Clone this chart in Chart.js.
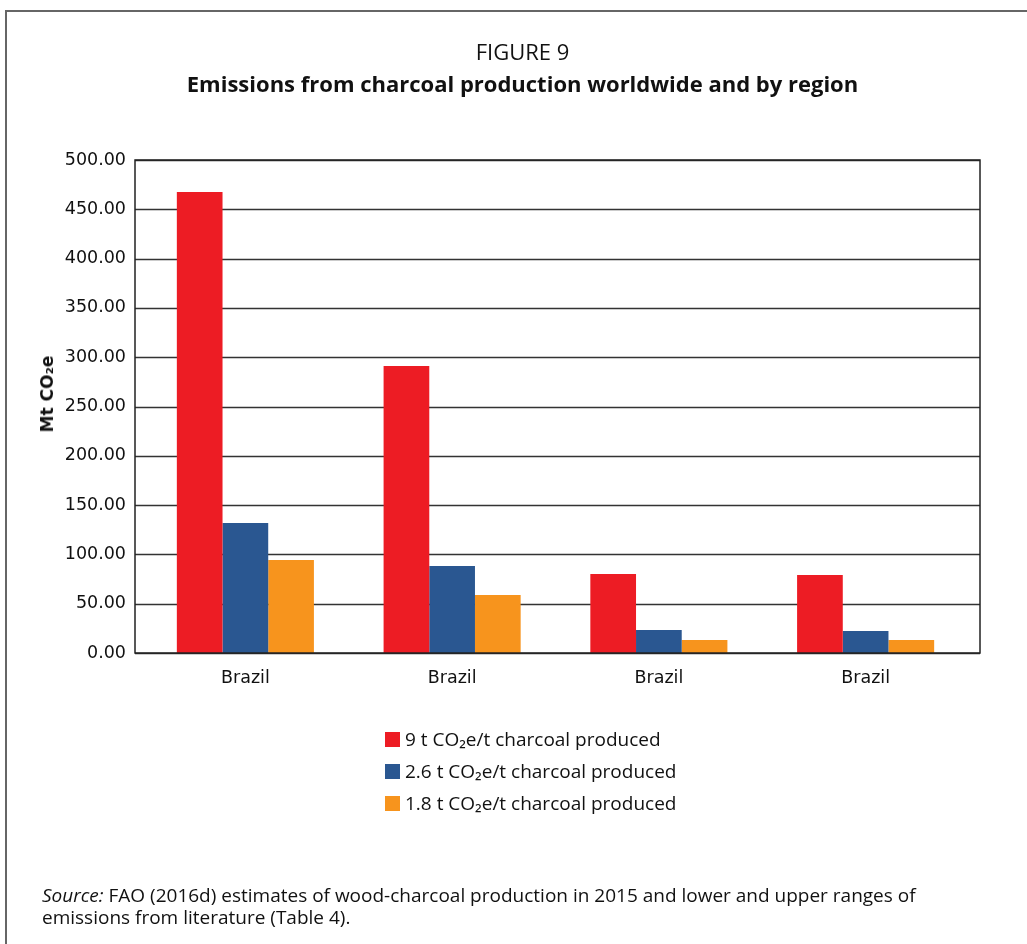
<!DOCTYPE html>
<html>
<head>
<meta charset="utf-8">
<script src="https://cdn.jsdelivr.net/npm/chart.js@4.4.0/dist/chart.umd.min.js"></script>
<style>
  html, body { margin: 0; padding: 0; background: #fff; }
  body { width: 1027px; height: 944px; position: relative; overflow: hidden; font-family: "Open Sans", sans-serif; color: #111; }
  #frame { position: absolute; left: 5px; top: 10px; width: 1100px; height: 1000px; border-left: 2px solid #666; border-top: 2px solid #666; }
  #fig { position: absolute; top: 36px; left: 0; width: 1045px; text-align: center; font-size: 22px; line-height: 30px; }
  #title { position: absolute; top: 68px; left: 0; width: 1045px; text-align: center; font-size: 22px; line-height: 30px; font-weight: bold; }
  #chartWrap { position: absolute; left: 0; top: 0; width: 1027px; height: 944px; }
  #ytitle { position: absolute; left: 47px; top: 394px; transform: translate(-50%, -50%) rotate(-90deg); font-family: "DejaVu Sans", sans-serif; font-weight: bold; font-size: 17px; white-space: nowrap; color: #111; }
  #legend { position: absolute; left: 385px; top: 723px; font-size: 19px; }
  .li { height: 32px; display: flex; align-items: center; }
  .sw { width: 15px; height: 15px; margin-right: 5px; }
  #source { position: absolute; left: 42px; top: 884px; font-size: 19px; line-height: 22px; }
</style>
</head>
<body>
<div id="frame"></div>
<div id="chartWrap"><canvas id="c" width="1027" height="944"></canvas></div>
<div id="fig">FIGURE 9</div>
<div id="title">Emissions from charcoal production worldwide and by region</div>
<div id="ytitle">Mt CO₂e</div>
<div id="legend"></div>
<div id="source"><i>Source:</i> FAO (2016d) estimates of wood-charcoal production in 2015 and lower and upper ranges of<br>emissions from literature (Table 4).</div>
<script>
const categories = ["Brazil", "Brazil", "Brazil", "Brazil"];
const seriesNames = ["9 t CO₂e/t charcoal produced", "2.6 t CO₂e/t charcoal produced", "1.8 t CO₂e/t charcoal produced"];
const high = [467.5, 291.0, 80.1, 79.1];
const mid = [131.8, 88.2, 23.3, 22.3];
const low = [94.3, 58.8, 13.2, 13.2];
const colors = ["#ED1C24", "#2A5791", "#F7941D"];
const yTicks = [0, 50, 100, 150, 200, 250, 300, 350, 400, 450, 500];

// plot frame extends slightly beyond the category range (as in the source chart)
const frameExtra = { left: 7, right: 11 };

const gridAndFrame = {
  id: 'gridAndFrame',
  beforeDatasetsDraw(chart) {
    const a = chart.chartArea, ctx = chart.ctx, y = chart.scales.y;
    const l = a.left - frameExtra.left, r = a.right + frameExtra.right;
    ctx.save();
    ctx.strokeStyle = '#333';
    ctx.lineWidth = 1.3;
    yTicks.forEach(v => {
      const py = Math.round(y.getPixelForValue(v)) + 0.5;
      ctx.beginPath(); ctx.moveTo(l, py); ctx.lineTo(r, py); ctx.stroke();
    });
    ctx.restore();
  },
  afterDraw(chart) {
    const a = chart.chartArea, ctx = chart.ctx;
    const l = a.left - frameExtra.left, r = a.right + frameExtra.right;
    ctx.save();
    ctx.strokeStyle = '#222';
    ctx.lineWidth = 1.5;
    ctx.strokeRect(l, a.top, r - l, a.bottom - a.top);
    ctx.restore();
  }
};

const chart = new Chart(document.getElementById('c'), {
  type: 'bar',
  data: {
    labels: categories,
    datasets: [high, mid, low].map((d, i) => ({
      label: seriesNames[i], data: d, backgroundColor: colors[i], borderWidth: 0
    }))
  },
  options: {
    responsive: false,
    animation: false,
    layout: { padding: { left: 0, right: 58, top: 160, bottom: 0 } },
    plugins: { legend: { display: false }, tooltip: { enabled: false } },
    datasets: { bar: { categoryPercentage: 0.663, barPercentage: 1.0 } },
    scales: {
      x: {
        grid: { display: false, drawTicks: false },
        border: { display: false },
        ticks: { color: '#111', font: { family: 'DejaVu Sans', size: 17.5 }, padding: 15 },
        afterFit(s) { s.height = 944 - 653; }
      },
      y: {
        min: 0, max: 500,
        afterBuildTicks(s) { s.ticks = yTicks.map(v => ({ value: v })); },
        grid: { display: false, drawTicks: false },
        border: { display: false },
        ticks: { color: '#111', font: { family: 'DejaVu Sans', size: 17.5 }, padding: 16,
                 callback: v => Number(v).toFixed(2) },
        afterFit(s) { s.width = 142; }
      }
    }
  },
  plugins: [gridAndFrame]
});

const lg = document.getElementById('legend');
chart.data.datasets.forEach(ds => {
  const row = document.createElement('div'); row.className = 'li';
  const sw = document.createElement('span'); sw.className = 'sw'; sw.style.background = ds.backgroundColor;
  const t = document.createElement('span'); t.textContent = ds.label;
  row.appendChild(sw); row.appendChild(t); lg.appendChild(row);
});
</script>
</body>
</html>
